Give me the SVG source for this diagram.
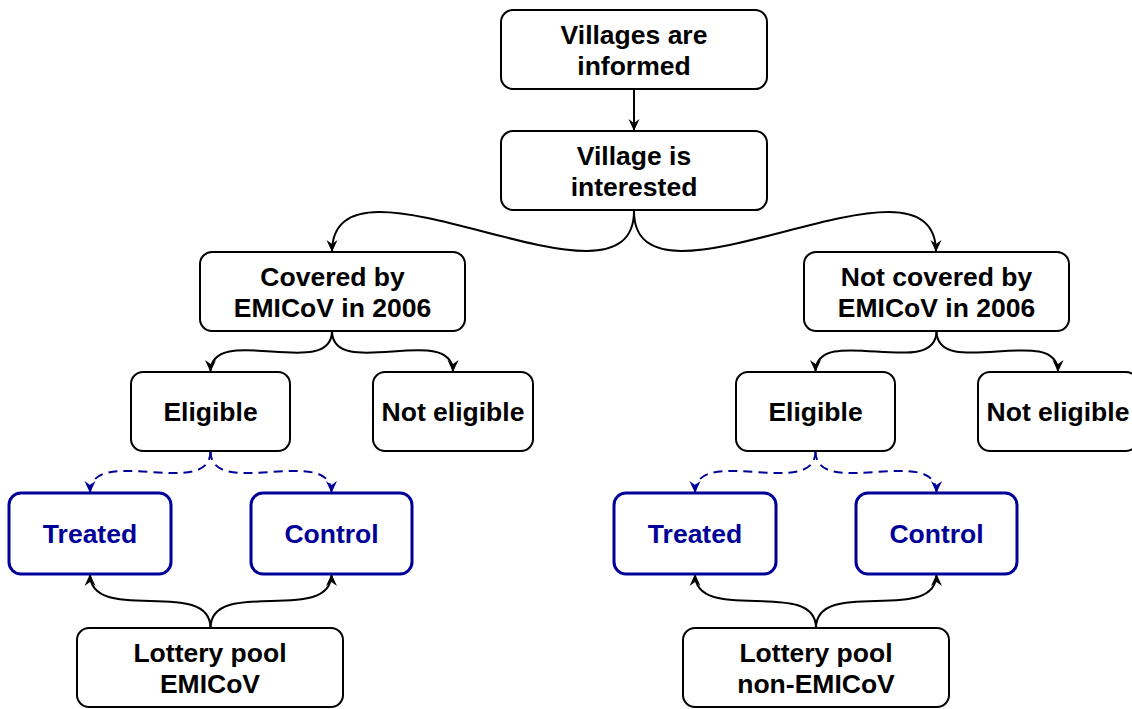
<svg xmlns="http://www.w3.org/2000/svg" width="1132" height="709" viewBox="0 0 1132 709">
<defs>
<style>
.box{fill:#fff;stroke:#000;stroke-width:2}
.bbox{fill:#fff;stroke:#000099;stroke-width:3}
.t{font-family:"Liberation Sans",Arial,sans-serif;font-weight:bold;font-size:26.5px;text-anchor:middle;fill:#000}
.bt{fill:#000099}
.c{fill:none;stroke:#000;stroke-width:2}
.d{fill:none;stroke:#000099;stroke-width:2;stroke-dasharray:9,6}
</style>
<marker id="ah" markerUnits="userSpaceOnUse" markerWidth="16" markerHeight="14" viewBox="-14 -7 16 14" refX="0" refY="0" orient="auto">
<path d="M0,0 L-12,-5.5 L-8,0 L-12,5.5 Z" fill="#000"/>
</marker>
<marker id="ahb" markerUnits="userSpaceOnUse" markerWidth="16" markerHeight="14" viewBox="-14 -7 16 14" refX="0" refY="0" orient="auto">
<path d="M0,0 L-12,-5.5 L-8,0 L-12,5.5 Z" fill="#000099"/>
</marker>
</defs>
<rect width="1132" height="709" fill="#fff"/>
<g id="connectors">
<path class="c" marker-end="url(#ah)" d="M634,89 L634,131"/>
<path class="c" marker-end="url(#ah)" d="M634,211 C634,330.3 332,132.7 332,252"/>
<path class="c" marker-end="url(#ah)" d="M634,211 C634,330.3 936,132.7 936,252"/>
<path class="c" marker-end="url(#ah)" d="M332,331 C332,381.2 210.5,321.8 210.5,372"/>
<path class="c" marker-end="url(#ah)" d="M332,331 C332,381.2 453,321.8 453,372"/>
<path class="c" marker-end="url(#ah)" d="M936.5,331 C936.5,381 815.5,322 815.5,372"/>
<path class="c" marker-end="url(#ah)" d="M936.5,331 C936.5,381 1058,322 1058,372"/>
<path class="d" marker-end="url(#ahb)" d="M210.5,451 C210.5,501 90,443 90,493"/>
<path class="d" marker-end="url(#ahb)" d="M210.5,451 C210.5,501 331.5,443 331.5,493"/>
<path class="d" marker-end="url(#ahb)" d="M815.5,451 C815.5,501 695,443 695,493"/>
<path class="d" marker-end="url(#ahb)" d="M815.5,451 C815.5,501 936.5,443 936.5,493"/>
<path class="c" marker-end="url(#ah)" d="M210.5,628 C210.5,576.3 90,625.7 90,574"/>
<path class="c" marker-end="url(#ah)" d="M210.5,628 C210.5,576.3 331.5,625.7 331.5,574"/>
<path class="c" marker-end="url(#ah)" d="M816,628 C816,576.3 695,625.7 695,574"/>
<path class="c" marker-end="url(#ah)" d="M816,628 C816,576.3 936.5,625.7 936.5,574"/>
</g>
<g id="n1"><rect class="box" x="501" y="10" width="266" height="79" rx="12"/><text class="t" x="634" y="43.5">Villages are</text><text class="t" x="634" y="74.5">informed</text></g>
<g id="n2"><rect class="box" x="501" y="131" width="266" height="79" rx="12"/><text class="t" x="634" y="164.5">Village is</text><text class="t" x="634" y="195.5">interested</text></g>
<g id="covered"><rect class="box" x="200" y="252" width="265" height="79" rx="12"/><text class="t" x="332.5" y="285.5">Covered by</text><text class="t" x="332.5" y="316.5">EMICoV in 2006</text></g>
<g id="notcovered"><rect class="box" x="804" y="252" width="265" height="79" rx="12"/><text class="t" x="936.5" y="285.5">Not covered by</text><text class="t" x="936.5" y="316.5">EMICoV in 2006</text></g>
<g id="eligL"><rect class="box" x="131" y="372" width="159" height="79" rx="12"/><text class="t" x="210.5" y="420.5">Eligible</text></g>
<g id="noteligL"><rect class="box" x="373" y="372" width="160" height="79" rx="12"/><text class="t" x="453" y="420.5">Not eligible</text></g>
<g id="eligR"><rect class="box" x="736" y="372" width="159" height="79" rx="12"/><text class="t" x="815.5" y="420.5">Eligible</text></g>
<g id="noteligR"><rect class="box" x="978" y="372" width="160" height="79" rx="12"/><text class="t" x="1058" y="420.5">Not eligible</text></g>
<g id="treatedL"><rect class="bbox" x="9" y="493" width="162" height="81" rx="12"/><text class="t bt" x="90" y="543">Treated</text></g>
<g id="controlL"><rect class="bbox" x="251" y="493" width="161" height="81" rx="12"/><text class="t bt" x="331.5" y="543">Control</text></g>
<g id="treatedR"><rect class="bbox" x="614" y="493" width="162" height="81" rx="12"/><text class="t bt" x="695" y="543">Treated</text></g>
<g id="controlR"><rect class="bbox" x="856" y="493" width="161" height="81" rx="12"/><text class="t bt" x="936.5" y="543">Control</text></g>
<g id="lotteryL"><rect class="box" x="77" y="628" width="266" height="79" rx="12"/><text class="t" x="210" y="661.5">Lottery pool</text><text class="t" x="210" y="692.5">EMICoV</text></g>
<g id="lotteryR"><rect class="box" x="683" y="628" width="266" height="79" rx="12"/><text class="t" x="816" y="661.5">Lottery pool</text><text class="t" x="816" y="692.5">non-EMICoV</text></g>
</svg>
